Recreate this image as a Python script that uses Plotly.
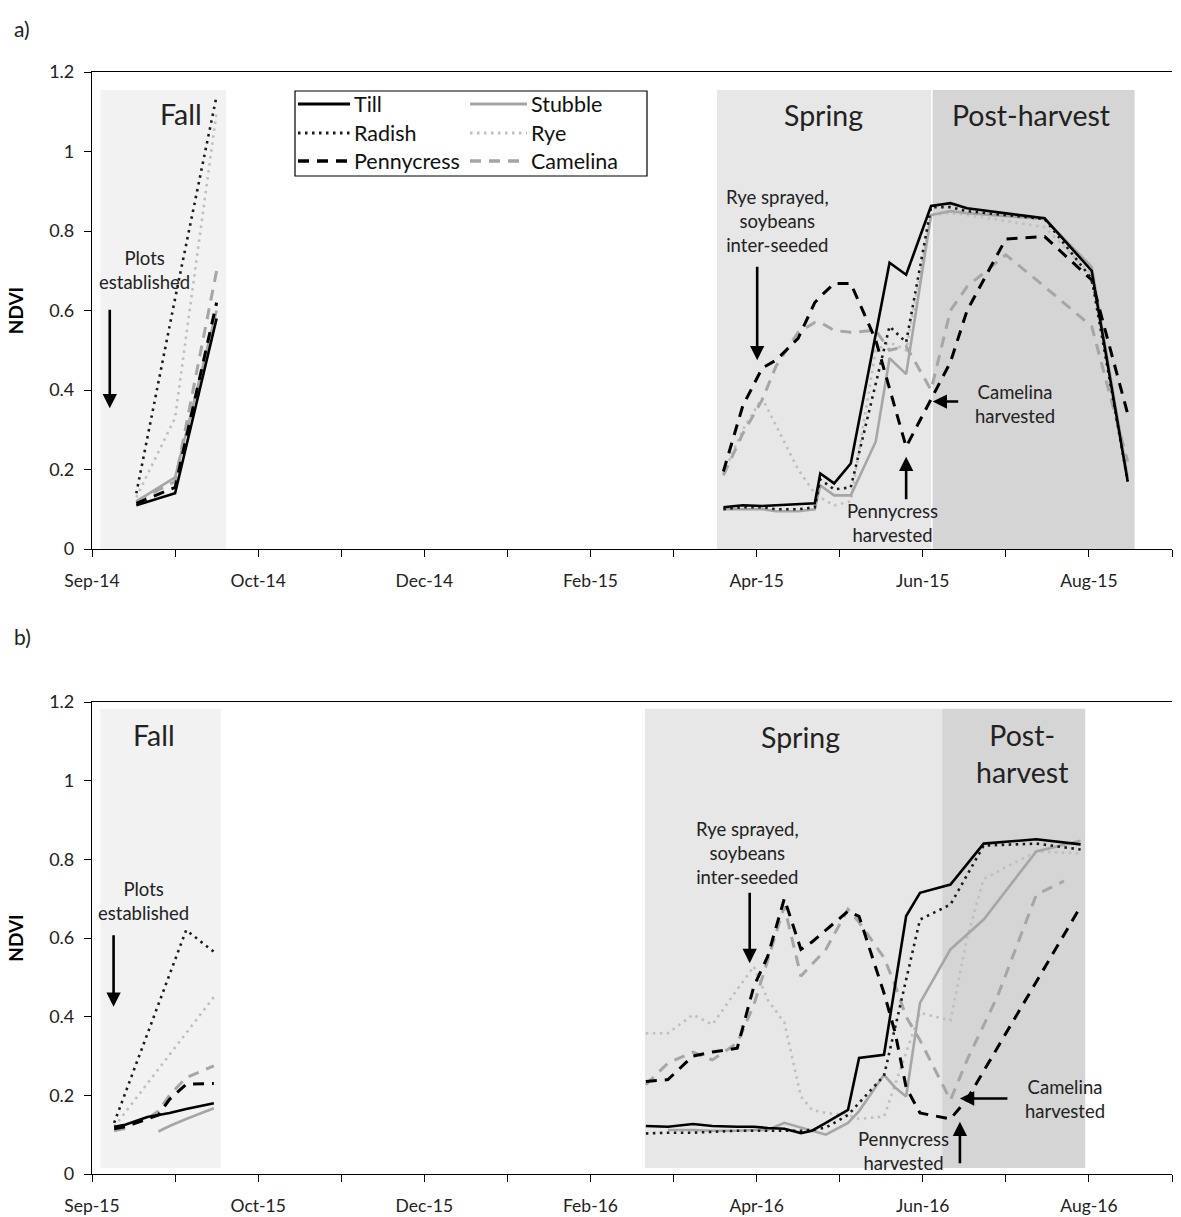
import plotly.graph_objects as go
from datetime import date, timedelta

# ---------------- DATA ----------------
# Panel a (2014-2015)
a_fall_dates = ["2014-09-17", "2014-10-01", "2014-10-16"]
a_fall_till = [0.11, 0.14, 0.58]
a_fall_radish = [0.14, 0.63, 1.14]
a_fall_pennycress = [0.115, 0.155, 0.62]
a_fall_stubble = [0.12, 0.18, 0.60]
a_fall_rye = [0.13, 0.33, 1.10]
a_fall_camelina = [0.12, 0.17, 0.70]

a_spring_dates = ["2015-04-17", "2015-04-24", "2015-05-01", "2015-05-06", "2015-05-14",
                  "2015-05-20", "2015-05-22", "2015-05-27", "2015-06-02", "2015-06-11",
                  "2015-06-16", "2015-06-22", "2015-07-01", "2015-07-08", "2015-07-14",
                  "2015-07-28", "2015-08-11", "2015-08-28", "2015-09-10"]
a_spring_till = [0.105, 0.11, 0.108, 0.11, 0.112, 0.115, 0.19, 0.165, 0.215, None,
                 0.72, 0.69, 0.863, 0.87, 0.857, None, 0.832, 0.70, 0.17]
a_spring_radish = [0.10, 0.105, 0.105, 0.10, 0.10, 0.105, 0.175, 0.15, 0.155, None,
                   0.56, 0.52, 0.86, 0.86, 0.85, None, 0.83, 0.68, 0.17]
a_spring_pennycress = [0.195, 0.36, 0.455, 0.475, 0.53, 0.62, 0.635, 0.668, 0.668, 0.526,
                       None, 0.257, 0.375, 0.47, 0.60, 0.78, 0.786, 0.677, 0.34]
a_spring_stubble = [0.10, 0.10, 0.10, 0.095, 0.095, 0.10, 0.16, 0.135, 0.135, 0.27,
                    0.48, 0.44, 0.84, 0.85, 0.845, None, 0.83, 0.71, 0.18]
a_spring_rye = [0.19, 0.30, 0.38, 0.31, 0.20, 0.14, 0.13, 0.11, 0.12, 0.50,
                0.52, 0.50, 0.84, 0.845, 0.84, None, 0.81, 0.69, 0.18]
a_spring_camelina = [0.185, 0.29, 0.375, 0.46, 0.545, 0.57, 0.57, 0.55, 0.545, 0.55,
                     0.50, 0.51, 0.40, 0.60, 0.66, 0.74, 0.66, 0.56, 0.22]

# Panel b (2015-2016)
b_fall_dates = ["2015-09-09", "2015-09-13", "2015-09-21", "2015-09-25", "2015-09-29",
                "2015-10-05", "2015-10-15"]
b_fall_till = [0.12, 0.125, 0.145, 0.15, 0.155, 0.165, 0.18]
b_fall_radish = [0.13, None, None, None, None, 0.62, 0.565]
b_fall_pennycress = [0.115, 0.12, 0.14, 0.15, 0.19, 0.228, 0.23]
b_fall_stubble = [0.11, 0.115, None, 0.108, 0.122, 0.14, 0.167]
b_fall_rye = [0.12, None, None, None, None, None, 0.45]
b_fall_camelina = [0.11, 0.12, 0.14, 0.16, 0.20, 0.245, 0.275]

b_spring_dates = ["2016-03-19", "2016-03-27", "2016-04-05", "2016-04-12", "2016-04-21",
                  "2016-04-27", "2016-05-02", "2016-05-08", "2016-05-14", "2016-05-18",
                  "2016-05-23", "2016-05-31", "2016-06-04", "2016-06-13", "2016-06-17",
                  "2016-06-21", "2016-06-26", "2016-07-07", "2016-07-13", "2016-07-19",
                  "2016-07-24", "2016-08-07", "2016-08-17", "2016-08-23"]
b_spring_till = [0.122, 0.12, 0.127, 0.122, 0.12, 0.12, 0.117, 0.115, 0.104, 0.11,
                 0.13, 0.163, 0.295, 0.303, None, 0.656, 0.715, 0.736, None, 0.84,
                 None, 0.851, None, 0.838]
b_spring_radish = [0.103, 0.105, 0.105, 0.108, 0.11, 0.11, 0.11, 0.11, 0.11, 0.112,
                   0.118, 0.15, None, 0.25, None, None, 0.647, 0.685, None, 0.835,
                   None, 0.84, None, 0.825]
b_spring_pennycress = [0.235, 0.24, 0.30, 0.31, 0.32, 0.477, 0.553, 0.70, 0.571, 0.59,
                       0.62, 0.668, 0.655, 0.46, 0.36, 0.22, 0.155, 0.14, 0.19, None,
                       None, None, None, 0.68]
b_spring_stubble = [None, 0.112, 0.112, 0.11, 0.11, 0.112, 0.112, 0.13, 0.118, 0.11,
                    0.10, 0.13, 0.16, 0.252, 0.22, 0.197, 0.435, 0.571, None, 0.647,
                    None, 0.82, None, 0.847]
b_spring_rye = [0.358, 0.358, 0.405, 0.38, None, 0.528, 0.443, 0.385, 0.197, 0.163,
                0.155, 0.15, 0.14, 0.146, None, None, 0.41, 0.39, 0.60, 0.75,
                None, 0.82, None, 0.815]
b_spring_camelina = [0.227, 0.282, 0.31, 0.29, 0.333, 0.43, None, 0.68, 0.503, None,
                     0.571, 0.673, 0.64, 0.55, 0.48, 0.40, 0.34, 0.188, 0.29, None,
                     0.452, 0.71, 0.745, None]

y_tick_vals = [0, 0.2, 0.4, 0.6, 0.8, 1.0, 1.2]
y_tick_text = ["0", "0.2", "0.4", "0.6", "0.8", "1", "1.2"]

# ---------------- STYLES ----------------
FONT = "Lato, Carlito, Calibri, sans-serif"
styles = {
    "Till": dict(color="#000000", width=2.6, dash="solid"),
    "Radish": dict(color="#1a1a1a", width=2.6, dash="2.5px,4.5px"),
    "Pennycress": dict(color="#000000", width=3, dash="11px,8px"),
    "Stubble": dict(color="#a6a6a6", width=2.6, dash="solid"),
    "Rye": dict(color="#bfbfbf", width=2.6, dash="2.5px,4.5px"),
    "Camelina": dict(color="#a6a6a6", width=3, dash="11px,8px"),
}
draw_order = ["Rye", "Camelina", "Stubble", "Pennycress", "Radish", "Till"]

panels = {
    "a": {
        "fall": (a_fall_dates, {"Till": a_fall_till, "Radish": a_fall_radish,
                                "Pennycress": a_fall_pennycress, "Stubble": a_fall_stubble,
                                "Rye": a_fall_rye, "Camelina": a_fall_camelina}),
        "spring": (a_spring_dates, {"Till": a_spring_till, "Radish": a_spring_radish,
                                    "Pennycress": a_spring_pennycress, "Stubble": a_spring_stubble,
                                    "Rye": a_spring_rye, "Camelina": a_spring_camelina}),
    },
    "b": {
        "fall": (b_fall_dates, {"Till": b_fall_till, "Radish": b_fall_radish,
                                "Pennycress": b_fall_pennycress, "Stubble": b_fall_stubble,
                                "Rye": b_fall_rye, "Camelina": b_fall_camelina}),
        "spring": (b_spring_dates, {"Till": b_spring_till, "Radish": b_spring_radish,
                                    "Pennycress": b_spring_pennycress, "Stubble": b_spring_stubble,
                                    "Rye": b_spring_rye, "Camelina": b_spring_camelina}),
    },
}

fig = go.Figure()
axes = {"a": ("x", "y"), "b": ("x2", "y2")}
for p, (xa, ya) in axes.items():
    for season in ["fall", "spring"]:
        dates, vals = panels[p][season]
        for name in draw_order:
            st = styles[name]
            gap_break = (p == "b" and season == "fall" and name == "Stubble")
            fig.add_trace(go.Scatter(
                x=dates, y=vals[name], mode="lines", name=name,
                xaxis=xa, yaxis=ya, connectgaps=not gap_break,
                line=dict(color=st["color"], width=st["width"], dash=st["dash"]),
                showlegend=False, hoverinfo="skip"))

# ---------------- AXES ----------------
def date_ticks(start):
    vals, text = [], []
    for k in range(14):
        d = start + timedelta(days=30 * k)
        vals.append(d.isoformat())
        text.append(d.strftime("%b-%y") if k % 2 == 0 else "")
    return vals, text

xa_vals, xa_text = date_ticks(date(2014, 9, 1))
xb_vals, xb_text = date_ticks(date(2015, 9, 1))

common_x = dict(type="date", tickmode="array", ticks="outside", ticklen=7, tickwidth=1,
                tickcolor="#000", showline=True, linecolor="#000", linewidth=1.2,
                mirror=True, showgrid=False, zeroline=False, automargin=False,
                tickfont=dict(family=FONT, size=17.5, color="#222"), ticklabelstandoff=9)
common_y = dict(range=[0, 1.2], tickmode="array", tickvals=y_tick_vals, ticktext=y_tick_text,
                ticks="outside", ticklen=7, tickwidth=1, tickcolor="#000",
                showline=True, linecolor="#000", linewidth=1.2, showgrid=False,
                zeroline=False, automargin=False,
                tickfont=dict(family=FONT, size=18, color="#222"),
                ticklabelstandoff=6,
                title=dict(text="<b>NDVI</b>", font=dict(family=FONT, size=19, color="#000"),
                           standoff=20))

ya_dom = [(1174 - 549) / 1102, 1.0]
yb_dom = [0.0, (1174 - 702) / 1102]

fig.update_layout(
    width=1181, height=1217,
    margin=dict(l=92, r=9, t=72, b=43, autoexpand=False),
    paper_bgcolor="white", plot_bgcolor="white",
    showlegend=False,
    font=dict(family=FONT, color="#222"),
    xaxis=dict(common_x, domain=[0, 1], anchor="y",
               range=["2014-09-01", "2015-09-26"], tickvals=xa_vals, ticktext=xa_text),
    yaxis=dict(common_y, domain=ya_dom, anchor="x"),
    xaxis2=dict(common_x, domain=[0, 1], anchor="y2",
                range=["2015-09-01", "2016-09-25"], tickvals=xb_vals, ticktext=xb_text),
    yaxis2=dict(common_y, domain=yb_dom, anchor="x2"),
)

# ---------------- SEASON SHADING ----------------
shapes = []
def band(xref, yref, x0, x1, y0, y1, color):
    shapes.append(dict(type="rect", xref=xref, yref=yref, x0=x0, x1=x1, y0=y0, y1=y1,
                       fillcolor=color, line=dict(width=0), layer="below"))

band("x", "y", "2014-09-04", "2014-10-19 10:00", 0, 1.155, "#f2f2f2")
band("x", "y", "2015-04-14 17:00", "2015-07-01 07:00", 0, 1.155, "#e7e7e7")
band("x", "y", "2015-07-01 07:00", "2015-09-12 12:00", 0, 1.155, "#d5d5d5")
shapes.append(dict(type="line", xref="x", yref="y", x0="2015-07-01 07:00", x1="2015-07-01 07:00",
                   y0=0, y1=1.155, line=dict(color="white", width=1.5), layer="below"))
band("x2", "y2", "2015-09-04", "2015-10-17 12:00", 0.015, 1.183, "#f2f2f2")
band("x2", "y2", "2016-03-18 16:00", "2016-07-04", 0.015, 1.183, "#e7e7e7")
band("x2", "y2", "2016-07-04", "2016-08-24 16:00", 0.015, 1.183, "#d5d5d5")

# ---------------- LEGEND (drawn) ----------------
def px_x(X):
    return (X - 92) / 1080
def px_y(Y):
    return (1174 - Y) / 1102

shapes.append(dict(type="rect", xref="paper", yref="paper",
                   x0=px_x(295), x1=px_x(647), y0=px_y(176), y1=px_y(91),
                   line=dict(color="#000", width=1.2), fillcolor="white", layer="above"))
legend_layout = [("Till", 298, 350, 104), ("Radish", 298, 350, 133), ("Pennycress", 298, 350, 161),
                 ("Stubble", 470, 527, 104), ("Rye", 470, 527, 133), ("Camelina", 470, 527, 161)]
annotations = []
for name, lx0, lx1, ly in legend_layout:
    st = styles[name]
    shapes.append(dict(type="line", xref="paper", yref="paper",
                       x0=px_x(lx0), x1=px_x(lx1), y0=px_y(ly), y1=px_y(ly),
                       line=dict(color=st["color"], width=st["width"] + 0.4, dash=st["dash"]),
                       layer="above"))
    annotations.append(dict(xref="paper", yref="paper", x=px_x(lx1 + 2), y=px_y(ly),
                            text=name, showarrow=False, xanchor="left", yanchor="middle",
                            font=dict(family=FONT, size=21.5, color="#111")))

# ---------------- TEXT & ARROWS ----------------
def label(xref, yref, x, y, text, size=18.5):
    annotations.append(dict(xref=xref, yref=yref, x=x, y=y, text=text, showarrow=False,
                            xanchor="center", yanchor="middle", align="center",
                            font=dict(family=FONT, size=size, color="#222")))

def arrow(xref, yref, x, y, ax, ay):
    annotations.append(dict(xref=xref, yref=yref, x=x, y=y, text="", showarrow=True,
                            axref="pixel", ayref="pixel", ax=ax, ay=ay,
                            arrowhead=2, arrowsize=1.1, arrowwidth=2.6, arrowcolor="#000"))

SEASON = 28.5
# panel a
label("x", "y", "2014-10-03", 1.094, "Fall", SEASON)
label("x", "y", "2015-05-23", 1.092, "Spring", SEASON)
label("x", "y", "2015-08-06", 1.092, "Post-harvest", SEASON)
label("x", "y", "2014-09-20", 0.703, "Plots<br>established")
arrow("x", "y", "2014-09-07 10:00", 0.354, 0, -100)
label("x", "y", "2015-05-06 12:00", 0.826, "Rye sprayed,<br>soybeans<br>inter-seeded")
arrow("x", "y", "2015-04-29 05:00", 0.475, 0, -95)
label("x", "y", "2015-06-17 05:00", 0.065, "Pennycress<br>harvested")
arrow("x", "y", "2015-06-22", 0.232, 0, 44)
label("x", "y", "2015-07-31 05:00", 0.366, "Camelina<br>harvested")
arrow("x", "y", "2015-07-01 14:00", 0.371, 27, 0)

# panel b
label("x2", "y2", "2015-09-23 07:00", 1.116, "Fall", SEASON)
label("x2", "y2", "2016-05-14", 1.112, "Spring", SEASON)
label("x2", "y2", "2016-08-01 16:00", 1.068, "Post-<br>harvest", SEASON)
label("x2", "y2", "2015-09-19 17:00", 0.695, "Plots<br>established")
arrow("x2", "y2", "2015-09-08 19:00", 0.425, 0, -73)
label("x2", "y2", "2016-04-24 19:00", 0.816, "Rye sprayed,<br>soybeans<br>inter-seeded")
arrow("x2", "y2", "2016-04-25 12:00", 0.536, 0, -72)
label("x2", "y2", "2016-06-19 22:00", 0.058, "Pennycress<br>harvested")
arrow("x2", "y2", "2016-07-10 10:00", 0.133, 0, 43)
label("x2", "y2", "2016-08-17 07:00", 0.19, "Camelina<br>harvested")
arrow("x2", "y2", "2016-07-10 10:00", 0.192, 49, 0)

# panel letters
annotations.append(dict(xref="paper", yref="paper", x=px_x(12), y=px_y(28), text="a)",
                        showarrow=False, xanchor="left", yanchor="middle",
                        font=dict(family=FONT, size=21, color="#222")))
annotations.append(dict(xref="paper", yref="paper", x=px_x(12), y=px_y(636), text="b)",
                        showarrow=False, xanchor="left", yanchor="middle",
                        font=dict(family=FONT, size=21, color="#222")))

fig.update_layout(shapes=shapes, annotations=annotations)
fig.write_html("out.html")
